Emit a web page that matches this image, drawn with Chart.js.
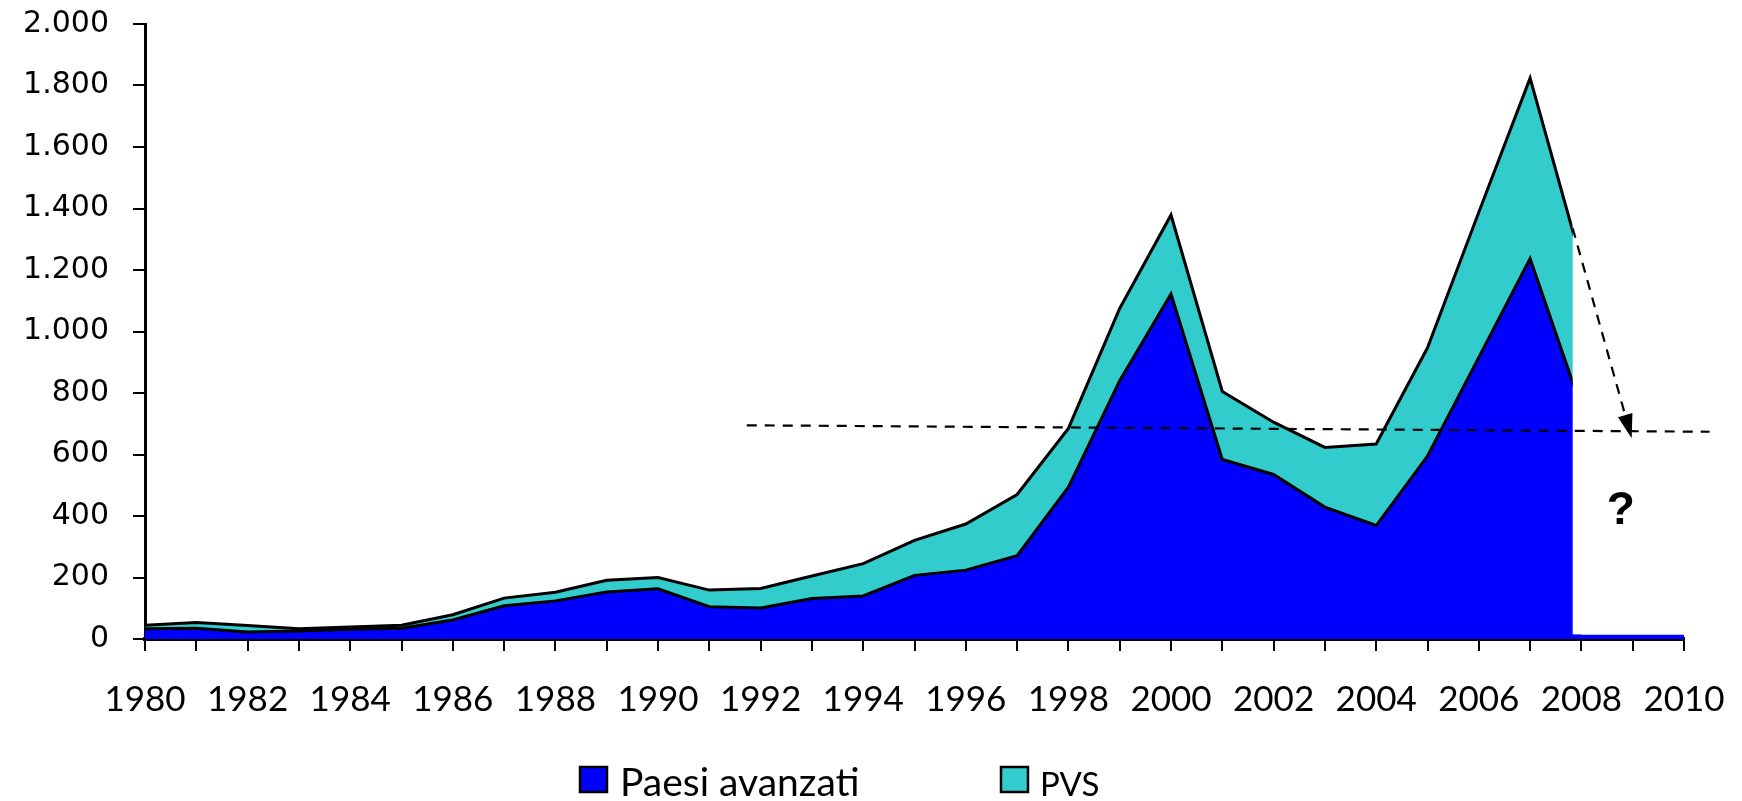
<!DOCTYPE html>
<html>
<head>
<meta charset="utf-8">
<title>Flussi di IDE</title>
<script src="https://cdn.jsdelivr.net/npm/chart.js@4.4.1/dist/chart.umd.min.js"></script>
<style>
  html, body { margin: 0; padding: 0; background: #ffffff; }
  #wrap { position: relative; width: 1742px; height: 801px; }
</style>
</head>
<body>
<div id="wrap"><canvas id="chart" width="1742" height="801"></canvas></div>
<script>
// Anni della serie (la serie si interrompe poco prima del 2008)
const years = [1980, 1981, 1982, 1983, 1984, 1985, 1986, 1987, 1988, 1989,
               1990, 1991, 1992, 1993, 1994, 1995, 1996, 1997, 1998, 1999,
               2000, 2001, 2002, 2003, 2004, 2005, 2006, 2007, 2008];

// Paesi avanzati (valori di base dell'area impilata)
const paesiAvanzati = [33, 35, 23, 26, 32, 35, 62, 108, 124, 153,
                       163, 105, 101, 132, 140, 207, 224, 271, 494, 840,
                       1122, 584, 535, 429, 369, 595, 916, 1237, 753];

// PVS (quota sopra i paesi avanzati)
const pvs = [12, 19, 21, 7, 7, 10, 17, 25, 28, 38,
             37, 54, 63, 73, 105, 114, 150, 199, 191, 235,
             257, 221, 170, 194, 265, 352, 472, 587, 473];

// Fascia residua dopo l'interruzione
const stripYears = [2007.83, 2010];
const stripValues = [15, 15];

// Anno in cui l'area viene tagliata
const cutYear = 2007.83;

// Etichette dell'asse verticale
const yTickValues = [0, 200, 400, 600, 800, 1000, 1200, 1400, 1600, 1800, 2000];
const yTickLabels = ['0', '200', '400', '600', '800', '1.000', '1.200', '1.400', '1.600', '1.800', '2.000'];

// Linea di riferimento tratteggiata e freccia verso il valore atteso
const refLineYears = [1991.73, 2010.5];
const refLineValues = [695, 674];
const arrowYears = [2007.83, 2008.98];
const arrowValues = [1336, 653];
const questionMark = { year: 2008.77, value: 415, text: '?' };

const seriesLabels = ['Paesi avanzati', 'PVS'];
const seriesColors = ['#0000FF', '#33CCCC'];

const narrowFont = "Lato, 'Open Sans', sans-serif";

// Taglio dell'area: tutto a sinistra dell'anno di taglio, solo la fascia bassa a destra
const cutClip = {
  id: 'cutClip',
  beforeDatasetsDraw(chart) {
    const { ctx, chartArea } = chart;
    const x = chart.scales.x.getPixelForValue(cutYear);
    const yStrip = chart.scales.y.getPixelForValue(stripValues[0]);
    ctx.save();
    ctx.beginPath();
    ctx.rect(chartArea.left - 2, chartArea.top - 10, x - chartArea.left + 2, chartArea.bottom - chartArea.top + 12);
    ctx.rect(x, yStrip, chartArea.right - x + 2, chartArea.bottom - yStrip + 2);
    ctx.clip();
  },
  afterDatasetsDraw(chart) {
    chart.ctx.restore();
  }
};

// Linee tratteggiate, freccia e punto interrogativo
const notes = {
  id: 'notes',
  afterDatasetsDraw(chart) {
    const { ctx } = chart;
    const xs = chart.scales.x, ys = chart.scales.y;
    ctx.save();
    ctx.strokeStyle = '#000';
    ctx.lineWidth = 2.2;
    ctx.setLineDash([10, 8]);

    ctx.beginPath();
    ctx.moveTo(xs.getPixelForValue(refLineYears[0]), ys.getPixelForValue(refLineValues[0]));
    ctx.lineTo(xs.getPixelForValue(refLineYears[1]), ys.getPixelForValue(refLineValues[1]));
    ctx.stroke();

    const x0 = xs.getPixelForValue(arrowYears[0]), y0 = ys.getPixelForValue(arrowValues[0]);
    const x1 = xs.getPixelForValue(arrowYears[1]), y1 = ys.getPixelForValue(arrowValues[1]);
    const len = Math.hypot(x1 - x0, y1 - y0);
    const ux = (x1 - x0) / len, uy = (y1 - y0) / len;
    const headLen = 24, headHalf = 7.5;
    ctx.beginPath();
    ctx.moveTo(x0, y0);
    ctx.lineTo(x1 - ux * headLen, y1 - uy * headLen);
    ctx.stroke();

    ctx.setLineDash([]);
    ctx.fillStyle = '#000';
    ctx.beginPath();
    ctx.moveTo(x1, y1);
    ctx.lineTo(x1 - ux * headLen - uy * headHalf, y1 - uy * headLen + ux * headHalf);
    ctx.lineTo(x1 - ux * headLen + uy * headHalf, y1 - uy * headLen - ux * headHalf);
    ctx.closePath();
    ctx.fill();

    ctx.font = "bold 46px 'Liberation Sans', Arial, sans-serif";
    ctx.textAlign = 'center';
    ctx.textBaseline = 'middle';
    ctx.fillText(questionMark.text, xs.getPixelForValue(questionMark.year), ys.getPixelForValue(questionMark.value));
    ctx.restore();
  }
};

// Legenda in basso
const bottomLegend = {
  id: 'bottomLegend',
  afterDraw(chart) {
    const { ctx } = chart;
    const items = [
      { box: 580, text: 620, size: 39 },
      { box: 1001, text: 1040, size: 33 }
    ];
    ctx.save();
    items.forEach((it, i) => {
      ctx.fillStyle = seriesColors[i];
      ctx.fillRect(it.box, 767, 27, 25);
      ctx.strokeStyle = '#000';
      ctx.lineWidth = 2.5;
      ctx.strokeRect(it.box, 767, 27, 25);
      ctx.fillStyle = '#000';
      ctx.font = it.size + 'px ' + narrowFont;
      ctx.textAlign = 'left';
      ctx.textBaseline = 'alphabetic';
      ctx.fillText(seriesLabels[i], it.text, 796);
    });
    ctx.restore();
  }
};

const toPoints = (xsArr, vals) => xsArr.map((x, i) => ({ x: x, y: vals[i] }));

new Chart(document.getElementById('chart'), {
  type: 'line',
  data: {
    datasets: [
      {
        label: seriesLabels[0],
        data: toPoints(years, paesiAvanzati),
        backgroundColor: seriesColors[0],
        borderColor: '#000',
        borderWidth: 3,
        fill: 'origin',
        stack: 'main',
        pointRadius: 0,
        tension: 0
      },
      {
        label: seriesLabels[1],
        data: toPoints(years, pvs),
        backgroundColor: seriesColors[1],
        borderColor: '#000',
        borderWidth: 3,
        fill: '-1',
        stack: 'main',
        pointRadius: 0,
        tension: 0
      },
      {
        label: 'residuo',
        data: toPoints(stripYears, stripValues),
        backgroundColor: seriesColors[0],
        borderWidth: 0,
        fill: 'origin',
        stack: 'strip',
        pointRadius: 0,
        tension: 0
      }
    ]
  },
  options: {
    responsive: false,
    animation: false,
    layout: { padding: { left: 0, right: 58, top: 24, bottom: 0 } },
    plugins: {
      legend: { display: false },
      tooltip: { enabled: false }
    },
    scales: {
      x: {
        type: 'linear',
        min: 1980,
        max: 2010,
        z: 1,
        afterFit: (s) => { s.height = 162; s.paddingLeft = 0; s.paddingRight = 0; },
        border: { display: true, color: '#000', width: 4 },
        grid: { drawOnChartArea: false, drawTicks: true, tickLength: 12, color: '#000', lineWidth: 2 },
        ticks: {
          stepSize: 1,
          autoSkip: false,
          maxRotation: 0,
          padding: 28,
          color: '#000',
          font: { family: narrowFont, size: 35 },
          callback: (v) => (v % 2 === 0 ? String(v) : '')
        }
      },
      y: {
        stacked: true,
        min: 0,
        max: 2000,
        z: 1,
        afterFit: (s) => { s.width = 145; s.paddingTop = 0; s.paddingBottom = 0; },
        afterBuildTicks: (s) => { s.ticks = yTickValues.map((v) => ({ value: v })); },
        border: { display: true, color: '#000', width: 3 },
        grid: { drawOnChartArea: false, drawTicks: true, tickLength: 12, color: '#000', lineWidth: 2 },
        ticks: {
          padding: 24,
          color: '#000',
          font: { family: "'DejaVu Sans', sans-serif", size: 30 },
          callback: (v) => yTickLabels[yTickValues.indexOf(v)]
        }
      }
    }
  },
  plugins: [cutClip, notes, bottomLegend]
});
</script>
</body>
</html>
